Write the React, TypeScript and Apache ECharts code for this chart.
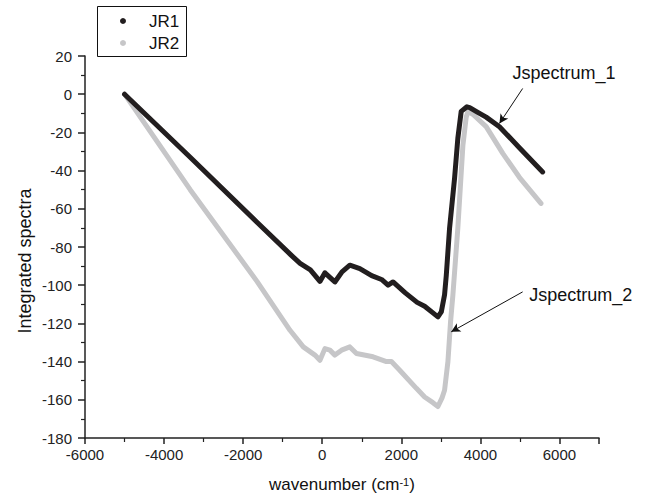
import React, { useEffect, useRef } from "react";
import * as echarts from "echarts";

const jr1X = [-5000, -3340, -1650, -800, -560, -300, -58, 68, 200, 320, 500, 698, 951, 1250, 1500, 1665, 1791, 2100, 2400, 2590, 2800, 2926, 3011, 3094, 3137, 3221, 3347, 3430, 3515, 3660, 3730, 3934, 4146, 4482, 4986, 5574];
const jr1Y = [0, -33, -67, -84, -88.6, -92, -98, -93.5, -96, -98.3, -93, -89.5, -91.3, -95, -97, -100, -98.3, -104, -109, -111, -114.5, -116.6, -114, -105, -95, -70, -44, -23, -9, -6.6, -7, -9.5, -12, -17, -28, -40.7];

const jr2X = [-5000, -3340, -1650, -815, -479, -184, -58, 68, 194, 320, 489, 698, 867, 1286, 1624, 1750, 1960, 2381, 2590, 2800, 2926, 3030, 3094, 3179, 3246, 3305, 3430, 3557, 3641, 3690, 3809, 4146, 4566, 4986, 5532];
const jr2Y = [0, -50, -98, -123.6, -132.3, -136.6, -139.3, -133.2, -134, -136.6, -134, -132.3, -135.8, -137.5, -140, -140, -144.5, -154, -158.5, -161.5, -163.5, -159, -155, -140, -119, -105, -70, -27, -12, -9, -10.5, -17, -31, -43.5, -57.2];

const seriesNames = ["JR1", "JR2"];
const annotationTexts = ["Jspectrum_1", "Jspectrum_2"];
// [tailX, tailY, headX, headY] in data units
const arrows = [
  [5069, 3.0, 4482, -15.3],
  [5069, -103.5, 3263, -124.4],
];
const labelAnchors = [
  [4810, 11],
  [5238, -105.2],
];

const FONT = "'Liberation Sans', Arial, Helvetica, sans-serif";
const BLACK = "#221e1f";
const GRAY = "#c6c6c8";

export default function App() {
  const ref = useRef<HTMLDivElement>(null);
  useEffect(() => {
    if (!ref.current) return;
    const chart = echarts.init(ref.current, undefined, { renderer: "svg" });
    const d1 = jr1X.map((x, i) => [x, jr1Y[i]]);
    const d2 = jr2X.map((x, i) => [x, jr2Y[i]]);
    chart.setOption({
      animation: false,
      textStyle: { fontFamily: FONT },
      grid: { left: 85, right: 51, top: 56, bottom: 63, containLabel: false, outerBoundsMode: "none" },
      xAxis: {
        type: "value",
        min: -6000,
        max: 7000,
        interval: 2000,
        name: "{a|wavenumber (cm}{s|-1}{a|)}",
        nameLocation: "middle",
        nameGap: 38,
        nameTextStyle: {
          rich: {
            a: { fontSize: 17, color: "#111", fontFamily: FONT },
            s: { fontSize: 11, color: "#111", fontFamily: FONT, verticalAlign: "top" },
          },
        },
        axisLine: { show: true, onZero: false, lineStyle: { color: "#222", width: 1.5 } },
        axisTick: { show: true, inside: false, length: 6, lineStyle: { color: "#222", width: 1.5 } },
        minorTick: { show: true, splitNumber: 2, length: 4, lineStyle: { color: "#222", width: 1.2 } },
        axisLabel: {
          fontSize: 15,
          color: "#222",
          margin: 9,
          showMaxLabel: false,
          fontFamily: FONT,
          formatter: (v: number) => String(v),
        },
        splitLine: { show: false },
      },
      yAxis: {
        type: "value",
        min: -180,
        max: 20,
        interval: 20,
        axisLine: { show: true, onZero: false, lineStyle: { color: "#222", width: 1.5 } },
        axisTick: { show: true, inside: false, length: 7, lineStyle: { color: "#222", width: 1.5 } },
        minorTick: { show: true, splitNumber: 2, length: 4, lineStyle: { color: "#222", width: 1.2 } },
        axisLabel: { fontSize: 15, color: "#222", margin: 13, fontFamily: FONT, formatter: (v: number) => String(v) },
        splitLine: { show: false },
      },
      graphic: [
        {
          type: "text",
          x: 25,
          y: 261,
          rotation: Math.PI / 2,
          style: {
            text: "Integrated spectra",
            fontSize: 18,
            fontFamily: FONT,
            fill: "#111",
            align: "center",
            verticalAlign: "middle",
          },
        },
        {
          type: "group",
          left: 97,
          top: 6,
          children: [
            {
              type: "rect",
              shape: { x: 0.5, y: 0.5, width: 89, height: 50 },
              style: { fill: "#fff", stroke: "#111", lineWidth: 1 },
            },
            { type: "circle", shape: { cx: 26, cy: 15, r: 3 }, style: { fill: BLACK } },
            {
              type: "text",
              x: 52,
              y: 15,
              style: { text: seriesNames[0], fontSize: 17, fontFamily: FONT, fill: "#111", verticalAlign: "middle" },
            },
            { type: "circle", shape: { cx: 26, cy: 37, r: 3 }, style: { fill: GRAY } },
            {
              type: "text",
              x: 52,
              y: 37,
              style: { text: seriesNames[1], fontSize: 17, fontFamily: FONT, fill: "#111", verticalAlign: "middle" },
            },
          ],
        },
      ],
      series: [
        {
          name: seriesNames[1],
          type: "line",
          data: d2,
          z: 2,
          showSymbol: false,
          symbol: "circle",
          color: GRAY,
          lineStyle: { color: GRAY, width: 5, cap: "round", join: "round" },
          itemStyle: { color: GRAY },
        },
        {
          name: seriesNames[0],
          type: "line",
          data: d1,
          z: 3,
          showSymbol: false,
          symbol: "circle",
          color: BLACK,
          lineStyle: { color: BLACK, width: 5, cap: "round", join: "round" },
          itemStyle: { color: BLACK },
          markLine: {
            silent: true,
            symbol: ["none", "arrow"],
            symbolSize: [7, 9],
            label: { show: false },
            lineStyle: { color: "#111", width: 1, type: "solid" },
            emphasis: { disabled: true },
            data: arrows.map((a) => [
              { coord: [a[0], a[1]] },
              { coord: [a[2], a[3]] },
            ]),
          },
          markPoint: {
            silent: true,
            symbol: "circle",
            symbolSize: 0,
            itemStyle: { color: "transparent" },
            label: {
              show: true,
              position: "right",
              distance: 0,
              fontSize: 18,
              color: "#111",
              fontFamily: FONT,
              formatter: (p: any) => p.name,
            },
            data: annotationTexts.map((t, i) => ({ name: t, coord: labelAnchors[i], value: t })),
          },
        },
      ],
    });
    return () => chart.dispose();
  }, []);
  return <div ref={ref} style={{ width: 650, height: 501, position: "absolute", left: 0, top: 0 }} />;
}
